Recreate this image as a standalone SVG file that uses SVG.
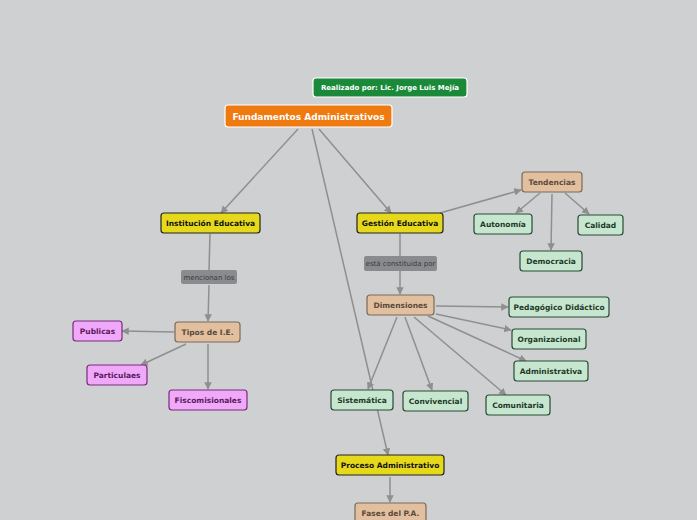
<svg xmlns="http://www.w3.org/2000/svg" width="697" height="520" viewBox="0 0 697 520">
<style>
text{font-family:Verdana,"DejaVu Sans",sans-serif;font-size:7.5px;font-weight:bold;text-anchor:middle;dominant-baseline:central}
.y rect{fill:#e6d81a;stroke:#222}.y text{fill:#111}
.t rect{fill:#e2bf9f;stroke:#7a6a58}.t text{fill:#5a4a3a}
.g rect{fill:#c7e6cf;stroke:#2a4a36}.g text{fill:#1d3a28}
.p rect{fill:#f0a8f8;stroke:#7a2a80}.p text{fill:#5a1a60}
.l rect{fill:#8a8b8e;stroke:none}.l text{fill:#3a3a3a;font-weight:normal;font-size:7px}
rect{stroke-width:1.2}
#edges line{stroke:#8f8f8f;stroke-width:1.5}
</style>
<defs><marker id="a" viewBox="0 0 10 10" refX="9" refY="5" markerWidth="5" markerHeight="5" orient="auto"><path d="M0,0L10,5L0,10z" fill="#8f8f8f"/></marker></defs>
<rect width="697" height="520" fill="#cfd0d2"/>
<g id="edges">
<line x1="298" y1="129" x2="221" y2="213" marker-end="url(#a)"/>
<line x1="319" y1="129" x2="391" y2="213" marker-end="url(#a)"/>
<line x1="312" y1="129" x2="388" y2="455" marker-end="url(#a)"/>
<line x1="440" y1="213" x2="521" y2="190" marker-end="url(#a)"/>
<line x1="540" y1="193" x2="516" y2="213" marker-end="url(#a)"/>
<line x1="552" y1="194" x2="551" y2="250" marker-end="url(#a)"/>
<line x1="565" y1="193" x2="589" y2="214" marker-end="url(#a)"/>
<line x1="210" y1="234" x2="209" y2="270"/>
<line x1="209" y1="285" x2="208" y2="321" marker-end="url(#a)"/>
<line x1="400" y1="234" x2="400" y2="256"/>
<line x1="400" y1="271" x2="400" y2="294" marker-end="url(#a)"/>
<line x1="436" y1="306" x2="508" y2="307" marker-end="url(#a)"/>
<line x1="436" y1="314" x2="511" y2="330" marker-end="url(#a)"/>
<line x1="428" y1="316" x2="526" y2="361" marker-end="url(#a)"/>
<line x1="414" y1="317" x2="506" y2="395" marker-end="url(#a)"/>
<line x1="405" y1="317" x2="432" y2="390" marker-end="url(#a)"/>
<line x1="397" y1="317" x2="368" y2="389" marker-end="url(#a)"/>
<line x1="174" y1="332" x2="122" y2="331" marker-end="url(#a)"/>
<line x1="186" y1="344" x2="141" y2="365" marker-end="url(#a)"/>
<line x1="208" y1="344" x2="208" y2="389" marker-end="url(#a)"/>
<line x1="390" y1="477" x2="390" y2="502" marker-end="url(#a)"/>
</g>
<g id="realizado"><rect x="313" y="78" width="154" height="19" rx="3" fill="#1a8a3a" stroke="#fff"/><text x="390" y="88" fill="#fff" style="font-size:7px">Realizado por: Lic. Jorge Luis Mejía</text></g>
<g id="fundamentos"><rect x="225" y="105" width="167" height="22" rx="3" fill="#ef7a10" stroke="#fff"/><text x="308.5" y="116.5" fill="#fff" style="font-size:9px">Fundamentos Administrativos</text></g>
<g id="institucion" class="y"><rect x="161" y="213" width="99" height="20" rx="3"/><text x="210.5" y="223.5">Institución Educativa</text></g>
<g id="gestion" class="y"><rect x="357" y="213" width="86" height="20" rx="3"/><text x="400" y="223.5">Gestión Educativa</text></g>
<g id="tendencias" class="t"><rect x="522" y="172" width="60" height="20" rx="3"/><text x="552" y="182.5">Tendencias</text></g>
<g id="autonomia" class="g"><rect x="474" y="214" width="58" height="20" rx="3"/><text x="503" y="224.5">Autonomía</text></g>
<g id="calidad" class="g"><rect x="578" y="215" width="45" height="20" rx="3"/><text x="600.5" y="225.5">Calidad</text></g>
<g id="democracia" class="g"><rect x="520" y="251" width="62" height="20" rx="3"/><text x="551" y="261.5">Democracia</text></g>
<g id="mencionan" class="l"><rect x="181" y="270" width="56" height="14" rx="2"/><text x="209" y="277.5">mencionan los</text></g>
<g id="constituida" class="l"><rect x="364" y="256" width="73" height="15" rx="2"/><text x="400.5" y="264">está constituida por</text></g>
<g id="dimensiones" class="t"><rect x="367" y="295" width="67" height="20" rx="3"/><text x="400.5" y="305.5">Dimensiones</text></g>
<g id="pedagogico" class="g"><rect x="509" y="297" width="100" height="20" rx="3"/><text x="559" y="307.5">Pedagógico Didáctico</text></g>
<g id="organizacional" class="g"><rect x="512" y="329" width="74" height="20" rx="3"/><text x="549" y="339.5">Organizacional</text></g>
<g id="administrativa" class="g"><rect x="514" y="361" width="74" height="20" rx="3"/><text x="551" y="371.5">Administrativa</text></g>
<g id="tipos" class="t"><rect x="175" y="322" width="65" height="20" rx="3"/><text x="207.5" y="332.5">Tipos de I.E.</text></g>
<g id="publicas" class="p"><rect x="73" y="321" width="49" height="20" rx="3"/><text x="97.5" y="331.5">Publicas</text></g>
<g id="particulaes" class="p"><rect x="87" y="365" width="60" height="20" rx="3"/><text x="117" y="375.5">Particulaes</text></g>
<g id="fiscomisionales" class="p"><rect x="169" y="390" width="78" height="20" rx="3"/><text x="208" y="400.5">Fiscomisionales</text></g>
<g id="sistematica" class="g"><rect x="331" y="390" width="62" height="20" rx="3"/><text x="362" y="400.5">Sistemática</text></g>
<g id="convivencial" class="g"><rect x="403" y="391" width="65" height="20" rx="3"/><text x="435.5" y="401.5">Convivencial</text></g>
<g id="comunitaria" class="g"><rect x="486" y="395" width="64" height="20" rx="3"/><text x="518" y="405.5">Comunitaria</text></g>
<g id="proceso" class="y"><rect x="336" y="455" width="108" height="20" rx="3"/><text x="390" y="465.5">Proceso Administrativo</text></g>
<g id="fases" class="t"><rect x="355" y="503" width="71" height="20" rx="3"/><text x="390.5" y="513.5">Fases del P.A.</text></g>
</svg>
